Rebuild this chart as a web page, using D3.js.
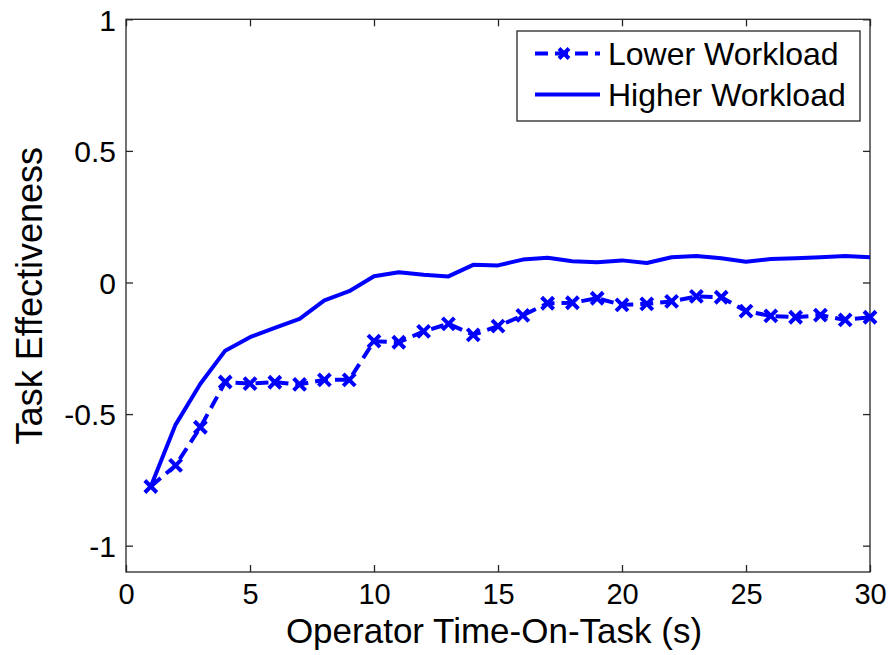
<!DOCTYPE html>
<html>
<head>
<meta charset="utf-8">
<script src="https://cdnjs.cloudflare.com/ajax/libs/d3/7.8.5/d3.min.js"></script>
<style>
  body { margin: 0; background: #fff; }
  svg text { font-family: "Liberation Sans", Arial, Helvetica, sans-serif; fill: #000; }
</style>
</head>
<body>
<div id="chart"></div>
<script>
// Data
var timeOnTask = [1, 2, 3, 4, 5, 6, 7, 8, 9, 10, 11, 12, 13, 14, 15, 16, 17, 18, 19, 20,
                  21, 22, 23, 24, 25, 26, 27, 28, 29, 30];
var lowerWorkload = [-0.775, -0.695, -0.55, -0.378, -0.384, -0.379, -0.387, -0.37, -0.37, -0.223,
                     -0.227, -0.186, -0.157, -0.199, -0.166, -0.125, -0.079, -0.077, -0.06, -0.085,
                     -0.081, -0.072, -0.053, -0.056, -0.109, -0.127, -0.132, -0.124, -0.142, -0.132];
var higherWorkload = [-0.775, -0.54, -0.385, -0.259, -0.208, -0.172, -0.138, -0.068, -0.033, 0.024,
                      0.039, 0.029, 0.023, 0.067, 0.065, 0.087, 0.094, 0.081, 0.077, 0.084,
                      0.074, 0.096, 0.101, 0.092, 0.079, 0.089, 0.092, 0.096, 0.101, 0.096];
var xTicks = [0, 5, 10, 15, 20, 25, 30];
var yTicks = [-1, -0.5, 0, 0.5, 1];
var seriesNames = ["Lower Workload", "Higher Workload"];

var svgWidth = 891;
var svgHeight = 655;
var margin = { top: 19.3, right: 21, bottom: 83, left: 126 };
var width = svgWidth - margin.left - margin.right;
var height = svgHeight - margin.top - margin.bottom;

var svg = d3.select("#chart")
  .append("svg")
  .attr("width", svgWidth)
  .attr("height", svgHeight);

var chartGroup = svg.append("g")
  .attr("transform", `translate(${margin.left}, ${margin.top})`);

var xScale = d3.scaleLinear().domain([0, 30]).range([0, width]);
var yScale = d3.scaleLinear().domain([-1.1, 1]).range([height, 0]);

var axisColor = "#262626";
var tickLen = 7;

// Box around the plot
chartGroup.append("rect")
  .attr("x", 0).attr("y", 0)
  .attr("width", width).attr("height", height)
  .attr("fill", "none")
  .attr("stroke", axisColor)
  .attr("stroke-width", 1.3);

// plain hyphen for negatives, like the original
var yFormat = d => String(d);

// Axes (ticks point inward, on all four sides)
var bottomAxis = d3.axisBottom(xScale).tickValues(xTicks).tickSizeInner(-tickLen).tickSizeOuter(0).tickPadding(11);
var topAxis = d3.axisTop(xScale).tickValues(xTicks).tickSizeInner(-tickLen).tickSizeOuter(0).tickFormat("");
var leftAxis = d3.axisLeft(yScale).tickValues(yTicks).tickSizeInner(-tickLen).tickSizeOuter(0).tickPadding(10).tickFormat(yFormat);
var rightAxis = d3.axisRight(yScale).tickValues(yTicks).tickSizeInner(-tickLen).tickSizeOuter(0).tickFormat("");

var gx = chartGroup.append("g").attr("transform", `translate(0, ${height})`).call(bottomAxis);
var gxt = chartGroup.append("g").call(topAxis);
var gy = chartGroup.append("g").call(leftAxis);
var gyr = chartGroup.append("g").attr("transform", `translate(${width}, 0)`).call(rightAxis);

[gx, gxt, gy, gyr].forEach(function(g) {
  g.select(".domain").remove();
  g.selectAll(".tick line").attr("stroke", axisColor).attr("stroke-width", 1.3);
  g.selectAll(".tick text").style("font-size", "30px").attr("fill", "#000");
});
gx.selectAll(".tick text").style("font-size", "29px").attr("dy", "0.71em");
gy.selectAll(".tick text").attr("dy", "0.36em");

// Axis labels
svg.append("text")
  .attr("x", margin.left + width / 2 - 4)
  .attr("y", 643)
  .attr("text-anchor", "middle")
  .style("font-size", "35px")
  .text("Operator Time-On-Task (s)");

svg.append("text")
  .attr("transform", `translate(42, ${margin.top + height / 2}) rotate(-90)`)
  .attr("text-anchor", "middle")
  .style("font-size", "36px")
  .text("Task Effectiveness");

// Lines
var blue = "#0000ff";
var line = d3.line()
  .x((d, i) => xScale(timeOnTask[i]))
  .y(d => yScale(d));

chartGroup.append("path")
  .datum(higherWorkload)
  .attr("fill", "none")
  .attr("stroke", blue)
  .attr("stroke-width", 4)
  .attr("stroke-linejoin", "round")
  .attr("d", line);

chartGroup.append("path")
  .datum(lowerWorkload)
  .attr("fill", "none")
  .attr("stroke", blue)
  .attr("stroke-width", 4)
  .attr("stroke-dasharray", "13,7")
  .attr("d", line);

// x markers
function xMarker(sel, s) {
  sel.append("path")
    .attr("d", `M${-s},${-s}L${s},${s}M${-s},${s}L${s},${-s}`)
    .attr("stroke", blue)
    .attr("stroke-width", 4)
    .attr("fill", "none");
}

chartGroup.selectAll(".marker")
  .data(lowerWorkload)
  .enter()
  .append("g")
  .attr("class", "marker")
  .attr("transform", (d, i) => `translate(${xScale(timeOnTask[i])}, ${yScale(d)})`)
  .each(function() { xMarker(d3.select(this), 6); });

// Legend
var legend = svg.append("g").attr("transform", "translate(517, 31)");
legend.append("rect")
  .attr("width", 343).attr("height", 90)
  .attr("fill", "#fff")
  .attr("stroke", axisColor)
  .attr("stroke-width", 1.3);

var rowY = [22.5, 63.5];
seriesNames.forEach(function(name, i) {
  var row = legend.append("g").attr("transform", `translate(0, ${rowY[i]})`);
  row.append("line")
    .attr("x1", 18).attr("x2", 83)
    .attr("y1", 0).attr("y2", 0)
    .attr("stroke", blue)
    .attr("stroke-width", 4)
    .attr("stroke-dasharray", i === 0 ? "13,7" : null);
  if (i === 0) {
    xMarker(row.append("g").attr("transform", "translate(47, 0)"), 5);
  }
  row.append("text")
    .attr("x", 91)
    .attr("y", 0)
    .attr("dy", "0.36em")
    .style("font-size", "32px")
    .text(name);
});
</script>
</body>
</html>
